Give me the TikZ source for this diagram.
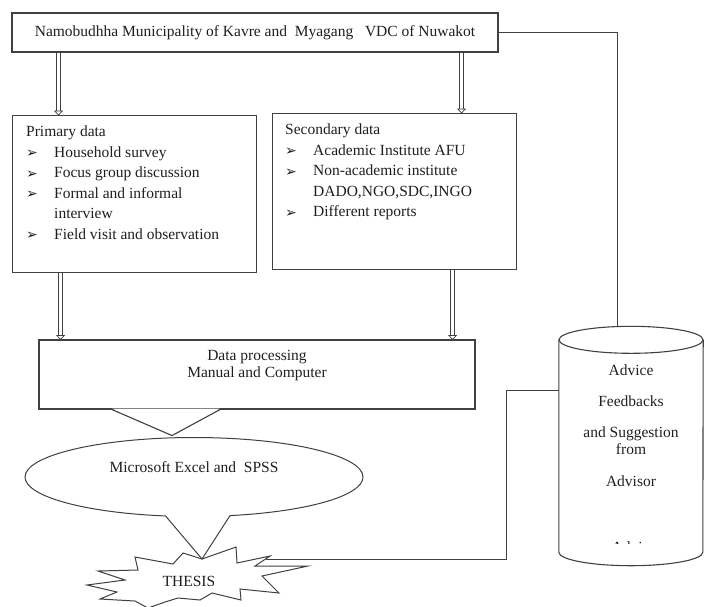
\documentclass[tikz,border=0pt]{standalone}
\usepackage{fontspec}
\setmainfont{Liberation Serif}
\newfontfamily\symfont{DejaVu Sans}
\usetikzlibrary{arrows.meta,shapes.callouts}

\definecolor{linegray}{HTML}{404040}
\definecolor{txtgray}{HTML}{1f1f1f}
\newcommand{\bul}{\makebox[28pt][l]{\symfont\bfseries\fontsize{14}{14}\selectfont\raisebox{-0.5pt}{➢}}}
% hollow arrow going down from #1 to #2 (named coordinates)
\newcommand{\hollowdown}[2]{%
  \draw[linegray, line width=0.7pt] ([xshift=-1.8pt]#1) -- ([shift={(-1.8pt,4pt)}]#2)
    ([xshift=1.8pt]#1) -- ([shift={(1.8pt,4pt)}]#2);
  \draw[linegray, line width=0.7pt, fill=white] ([shift={(-3.8pt,4pt)}]#2) -- (#2) -- ([shift={(3.8pt,4pt)}]#2) -- cycle;}

\begin{document}
\begin{tikzpicture}[x=1pt, y=1pt, font=\fontsize{15.5}{20.5}\selectfont, text=txtgray,
  box/.style={draw=linegray, line width=1.1pt, fill=white, inner sep=0pt},
  link/.style={draw=linegray, line width=1pt},
  lst/.style={anchor=north west, align=left, inner sep=0pt}]

\useasboundingbox (0,0) rectangle (708,-606);

% study area
\node[box, minimum width=486, minimum height=39] (area) at (255,-32.5) {Namobudhha Municipality of Kavre and\ \ Myagang\ \ \ VDC of Nuwakot};

% data sources
\node[box, minimum width=244, minimum height=157, anchor=north west] (pri) at (12,-115) {};
\node[lst] at ([shift={(14,-11)}]pri.north west) {Primary data\\ \bul Household survey\\ \bul Focus group discussion\\ \bul Formal and informal\\ \hspace*{28pt}interview\\ \bul Field visit and observation};

\node[box, minimum width=244, minimum height=156, anchor=north west] (sec) at (272,-113) {};
\node[lst] at ([shift={(13,-11)}]sec.north west) {Secondary data\\ \bul Academic Institute AFU\\ \bul Non-academic institute\\ \hspace*{28pt}DADO,NGO,SDC,INGO\\ \bul Different reports};

% processing
\node[box, minimum width=436, minimum height=69] (proc) at (257,-374.5) {};
\node[align=center, font=\fontsize{15.5}{17}\selectfont] at ([yshift=9]proc.center) {Data processing\\Manual and Computer};
\fill[white] ([shift={(-145,1)}]proc.south) -- ([shift={(-85,-26)}]proc.south) -- ([shift={(-37,1)}]proc.south) -- cycle;
\draw[link, line width=1.1pt] ([xshift=-145]proc.south) -- ([shift={(-85,-26)}]proc.south) -- ([xshift=-37]proc.south);

% thesis
\draw[link, fill=white] (135,-557) -- (173,-564) -- (183,-553) -- (202,-559) coordinate (thtop) -- (236,-547) -- (237,-563) -- (270,-556) -- (255,-566) -- (308,-566) -- (262,-576) -- (279,-593) -- (240,-589) -- (241,-600) -- (212,-593) -- (200,-600) -- (178,-598) -- (165,-602) -- (148,-608) -- (135,-601) -- (100,-599) -- (117,-592) -- (87,-585) -- (125,-580) -- (98,-571) -- (138,-570) -- cycle;
\node (thesis) at (189,-581) {THESIS};
\coordinate (threach) at (266,-559);

% tools
\node[ellipse callout, draw=linegray, line width=1pt, fill=white, minimum width=338, minimum height=79, callout absolute pointer={(thtop)}, callout pointer arc=22] (xls) at (194,-477) {};
\node at ([yshift=10]xls.center) {Microsoft Excel and\ \ SPSS};

% advisor
\node[minimum width=144, minimum height=239, inner sep=0pt] (adv) at (631,-446) {};
\draw[draw=linegray, line width=1.1pt] ([yshift=-13.5]adv.north west) -- ([yshift=13.5]adv.south west) arc[start angle=180, end angle=360, x radius=72, y radius=13.5] -- ([yshift=-13.5]adv.north east);
\draw[draw=linegray, line width=1.1pt] ([yshift=-13.5]adv.north) ellipse[x radius=72, y radius=13.5];
\node[align=center, anchor=north, inner sep=0pt, font=\fontsize{15.5}{16.5}\selectfont] at ([yshift=-38.5]adv.north) {Advice\\[14.5pt]Feedbacks\\[14.5pt]and Suggestion\\from\\[15.5pt]Advisor};
\begin{scope}
\clip (605,-541) rectangle (665,-543.5);
\node[anchor=base] at ([shift={(3,-106)}]adv.center) {Advice};
\end{scope}

% connectors
\coordinate (a1) at ([xshift=-76]pri.north |- area.south);
\coordinate (b1) at ([xshift=-76]pri.north);
\coordinate (a2) at ([xshift=67]sec.north |- area.south);
\coordinate (b2) at ([xshift=67]sec.north);
\coordinate (a3) at ([xshift=-74]pri.south);
\coordinate (b3) at ([xshift=-74]pri.south |- proc.north);
\coordinate (a4) at ([xshift=58]sec.south);
\coordinate (b4) at ([xshift=58]sec.south |- proc.north);
\hollowdown{a1}{b1}
\hollowdown{a2}{b2}
\hollowdown{a3}{b3}
\hollowdown{a4}{b4}
\draw[link] (area.east) -| ([xshift=-14]adv.north);
\draw[link] ([yshift=56]adv.west) -- ++(-52,0) |- (threach);

\end{tikzpicture}
\end{document}
